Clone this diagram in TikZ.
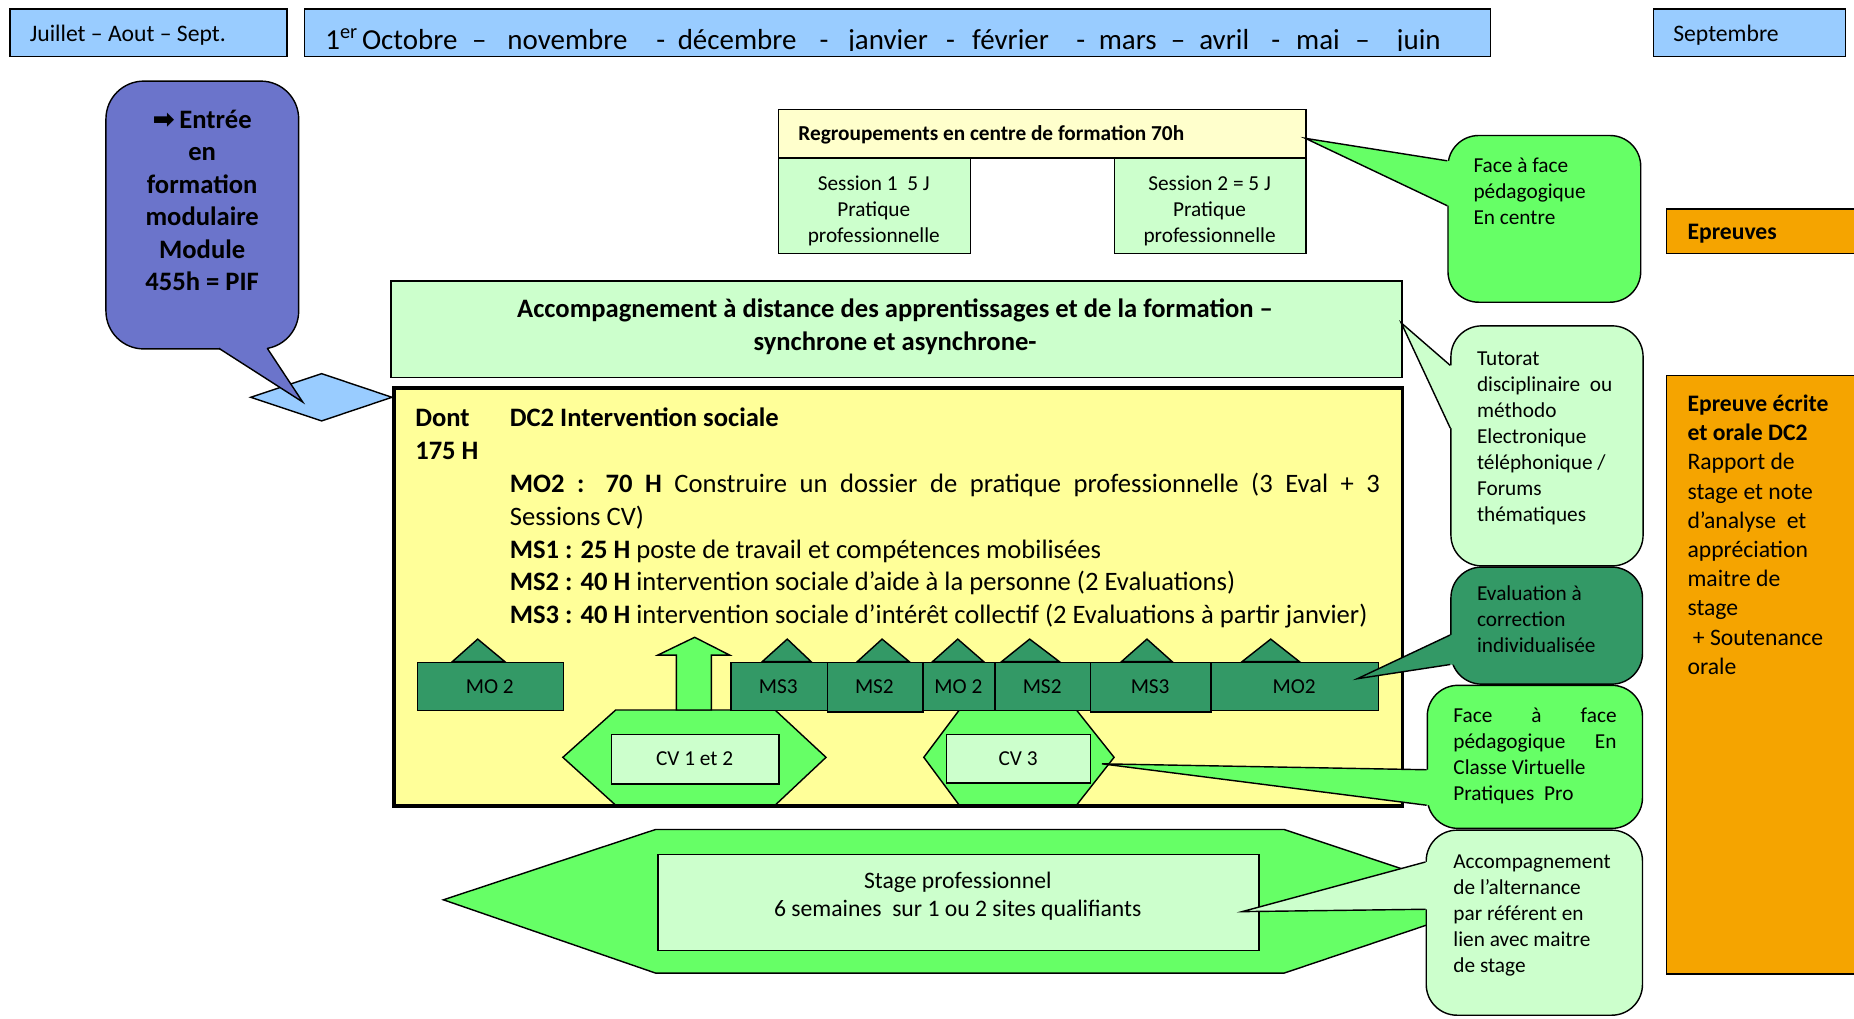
\documentclass[tikz,border=0pt]{standalone}
\usepackage{fontspec}
\setmainfont{Carlito}
\newfontfamily\djv{DejaVu Sans}
\usetikzlibrary{calc}
\definecolor{hblue}{RGB}{153,204,255}
\definecolor{lgreen}{RGB}{204,255,204}
\definecolor{bgreen}{RGB}{102,255,102}
\definecolor{dgreen}{RGB}{51,153,102}
\definecolor{yel}{RGB}{255,255,153}
\definecolor{lyel}{RGB}{255,255,204}
\definecolor{purp}{RGB}{107,116,203}
\definecolor{orng}{RGB}{245,164,0}
\newcommand{\fs}[2]{\fontsize{#1pt}{#2pt}\selectfont}
% box from (x1,y1) to (x2,y2)
\newcommand{\bx}[6]{\node[boxsty,#6,minimum width={(#4)-(#2)},minimum height={(#5)-(#3)}] (#1) at (#2,#3) {};}
% wedge of a callout: fill colour, base1, base2, tip, inner2, inner1
\newcommand{\mywedge}[6]{%
  \fill[#1] #2 -- #4 -- #3 -- #5 -- #6 -- cycle;
  \draw[line width=1.2pt,line join=miter] #2 -- #4 -- #3;}
\begin{document}
\begin{tikzpicture}[x=1pt,y=-1pt,
  boxsty/.style={draw=black,line width=1.2pt,inner sep=0pt,anchor=north west},
  txt/.style={inner sep=0pt},
  poly/.style={draw=black,line width=1.2pt,line join=miter},
  callsty/.style={boxsty,rounded corners=26pt},
  f18/.style={font=\fs{18}{22}},
  f20/.style={font=\fs{20}{24}},
  f17/.style={font=\fs{18}{21}}]
\useasboundingbox (0,0) rectangle (1568,861);
\fill[white] (0,0) rectangle (1568,861);

% ---------- header ----------
\bx{h1}{8}{7}{242}{47}{fill=hblue}
\node[txt,f20,anchor=base west] (h1t) at (25,35.5) {Juillet – Aout – Sept.};
\bx{h2}{257}{7}{1260}{47}{fill=hblue}
\begin{scope}
\clip (258,8) rectangle (1259,42.3);
\node[txt,anchor=base west,font=\fs{24.5}{29}] (h2t) at (275,41.5) {%
\makebox[31pt][l]{1\textsuperscript{er}}\makebox[93pt][l]{Octobre}\makebox[30pt][l]{–}%
\makebox[126pt][l]{novembre}\makebox[18pt][l]{-}\makebox[120pt][l]{décembre}%
\makebox[24pt][l]{-}\makebox[83pt][l]{janvier}\makebox[22pt][l]{-}%
\makebox[88pt][l]{février}\makebox[19pt][l]{-}\makebox[61pt][l]{mars}%
\makebox[24pt][l]{–}\makebox[61pt][l]{avril}\makebox[21pt][l]{-}%
\makebox[50pt][l]{mai}\makebox[35pt][l]{–}juin};
\end{scope}
\bx{h3}{1398}{7}{1560}{47}{fill=hblue}
\node[txt,f20,anchor=base west] (h3t) at (1415,35.5) {Septembre};

% ---------- diamond + entree callout ----------
\draw[poly,fill=hblue] (212,336) coordinate (dl) -- (272,316) -- (331.5,336) coordinate (dr) -- (272,356) -- cycle;
\bx{entree}{89}{68}{252}{294.5}{fill=purp,rounded corners=32pt}
\mywedge{purp}{(185,294.5)}{(226,294.5)}{(256,340)}{(226,290)}{(185,290)}
\node[txt,anchor=north,align=center,font=\fs{22.5}{27.5}\bfseries] (entreet) at (171,89) {\strut{\djv\bfseries ➡}\,Entrée\\en\\formation\\modulaire\\Module\\455h = PIF};

% ---------- regroupements ----------
\bx{regr}{658}{92}{1104}{133}{fill=lyel}
\node[txt,anchor=base west,font=\fs{18}{22}\bfseries] (regrt) at (675,119) {Regroupements en centre de formation 70h};
\bx{s1}{658}{133}{820}{214}{fill=lgreen}
\node[txt,f18,anchor=north,align=center] (s1t) at (739,145.6) {\strut Session 1 \ 5 J\\Pratique\\professionnelle};
\bx{s2}{942}{133}{1104}{214}{fill=lgreen}
\node[txt,f18,anchor=north,align=center] (s2t) at (1023,145.6) {\strut Session 2 = 5 J\\Pratique\\professionnelle};

% ---------- accompagnement ----------
\bx{acc}{330}{237}{1185}{318.5}{fill=lgreen}
\node[txt,anchor=north,align=center,font=\fs{22.5}{28}\bfseries] (acct) at (757,248.5) {\strut Accompagnement à distance des apprentissages et de la formation –\\synchrone et asynchrone-};

% ---------- epreuves ----------
\bx{epr}{1409}{176}{1580}{214}{fill=orng}
\node[txt,anchor=base west,font=\fs{20}{24}\bfseries] (eprt) at (1427,202.5) {Epreuves};
\bx{epr2}{1409}{317}{1580}{823}{fill=orng}
\node[txt,anchor=north west,align=left,font=\fs{20}{24.7}] (epr2t) at (1427,330.5) {\strut\textbf{Epreuve écrite}\\\textbf{et orale DC2}\\Rapport de\\stage et note\\d’analyse \ et\\appréciation\\maitre de\\stage\\\ + Soutenance\\orale};

% ---------- yellow box ----------
\fill[yel] (333,328) rectangle (1186,681.5);
\node[txt,anchor=base west,font=\fs{22.5}{27.7}\bfseries] (dont) at (351,361) {Dont};
\node[txt,anchor=base west,font=\fs{22.5}{27.7}\bfseries] (h175) at (351,389) {175 H};
\node[txt,anchor=base west,font=\fs{22.5}{27.7}\bfseries] (dc2) at (431,361) {DC2 Intervention sociale};
\node[txt,anchor=north west,align=left,font=\fs{22.5}{27.7}] (mods) at (431,397) {\strut\makebox[736pt][s]{\textbf{MO2 : 70 H} Construire un dossier de pratique professionnelle (3 Eval + 3}\\Sessions CV)\\\textbf{MS1 : 25 H} poste de travail et compétences mobilisées\\\textbf{MS2 : 40 H} intervention sociale d’aide à la personne (2 Evaluations)\\\textbf{MS3 : 40 H} intervention sociale d’intérêt collectif (2 Evaluations à partir janvier)};

% hexagons
\draw[poly,fill=bgreen] (476,640.5) -- (520.7,600.5) -- (655.5,600.5) -- (698.6,640.5) -- (655.5,681) -- (520.7,681) -- cycle;
\bx{cv12}{516.7}{620.8}{658.3}{662.5}{fill=lgreen}
\node[txt,f17,anchor=base] (cv12t) at (587.5,647.5) {CV 1 et 2};
\draw[poly,fill=bgreen] (781.3,640.5) -- (811.3,600.5) -- (910.4,600.5) -- (942.2,640.5) -- (910.4,681) -- (811.3,681) -- cycle;
\bx{cv3}{800}{620.8}{921.8}{661.7}{fill=lgreen}
\node[txt,f17,anchor=base] (cv3t) at (861,647.5) {CV 3};

% up arrow
\draw[poly,fill=bgreen] (572,600.5) -- (572,554) -- (556.4,554) -- (587.5,539) -- (617,554) -- (601.7,554) -- (601.7,600.5) -- cycle;

% module triangles
\foreach \a/\b/\c in {382.5/404/427, 644.6/665.8/686, 725/746/769, 788.6/810/832, 847/870.8/896, 948.4/970/991.4, 1050.4/1074.7/1099}
  \draw[poly,fill=dgreen] (\a,559.6) -- (\b,540.5) -- (\c,559.6) -- cycle;
% module blocks
\bx{m1}{352.4}{559.6}{476}{600.5}{fill=dgreen}
\bx{m2}{617.5}{559.6}{699}{600.5}{fill=dgreen}
\bx{m3}{699}{559.6}{780}{601.5}{fill=dgreen}
\bx{m4}{780}{559.6}{841}{600.5}{fill=dgreen}
\bx{m5}{841}{559.6}{921.8}{600.5}{fill=dgreen}
\bx{m6}{921.8}{559.6}{1023.7}{601.5}{fill=dgreen}
\bx{m7}{1023.7}{559.6}{1165.3}{600.5}{fill=dgreen}
\foreach \n/\x/\t in {m1t/414.2/MO 2, m2t/658.2/MS3, m3t/739.5/MS2, m4t/810.5/MO 2, m5t/881.4/MS2, m6t/972.7/MS3, m7t/1094.5/MO2}
  \node[txt,f17,anchor=base] (\n) at (\x,586.5) {\t};

\draw[line width=3pt] (333,328) rectangle (1186,681.5);

% ---------- stage ----------
\draw[poly,fill=bgreen] (375,761) -- (554.5,701.5) -- (1086,701.5) -- (1267,762) -- (1086,823) -- (554.5,823) -- cycle;
\bx{stage}{556}{722}{1064}{803.5}{fill=lgreen}
\node[txt,f20,anchor=north,align=center] (staget) at (810,734.5) {\strut Stage professionnel\\6 semaines \ sur 1 ou 2 sites qualifiants};

% ---------- callouts ----------
\bx{c1}{1224}{114}{1387}{255}{callsty,fill=bgreen}
\mywedge{bgreen}{(1224,136)}{(1224,174)}{(1104,117)}{(1228,174)}{(1228,136)}
\node[txt,f18,anchor=north west,align=left] (c1t) at (1246,130.5) {\strut Face à face\\pédagogique\\En centre};

\bx{c2}{1226.5}{275}{1389}{478}{callsty,fill=lgreen}
\mywedge{lgreen}{(1226.5,309)}{(1226.5,362)}{(1185,273)}{(1230.5,362)}{(1230.5,309)}
\node[txt,f18,anchor=north west,align=left] (c2t) at (1249,293.5) {\strut Tutorat\\disciplinaire \ ou\\méthodo\\Electronique\\téléphonique /\\Forums\\thématiques};

\bx{c3}{1226.5}{479}{1388.5}{578}{callsty,fill=dgreen}
\mywedge{dgreen}{(1226.5,537)}{(1226.5,562)}{(1148,574)}{(1230.5,562)}{(1230.5,537)}
\node[txt,f18,anchor=north west,align=left] (c3t) at (1249,492.5) {\strut Evaluation à\\correction\\individualisée};

\bx{c4}{1206.5}{579}{1388.5}{700}{callsty,fill=bgreen}
\mywedge{bgreen}{(1206.5,651)}{(1206.5,681)}{(932,646)}{(1210.5,681)}{(1210.5,651)}
\node[txt,f18,anchor=north west,align=left] (c4t) at (1229,595.5) {\strut\makebox[138pt][s]{Face à face}\\\makebox[138pt][s]{pédagogique En}\\Classe Virtuelle\\Pratiques \ Pro};

\bx{c5}{1205.6}{701.5}{1388.5}{858}{callsty,fill=lgreen}
\mywedge{lgreen}{(1205.6,729)}{(1205.6,769)}{(1050.5,771)}{(1209.6,769)}{(1209.6,729)}
\node[txt,f18,anchor=north west,align=left] (c5t) at (1229,719) {\strut Accompagnement\\de l’alternance\\par référent en\\lien avec maitre\\de stage};
\end{tikzpicture}
\end{document}
